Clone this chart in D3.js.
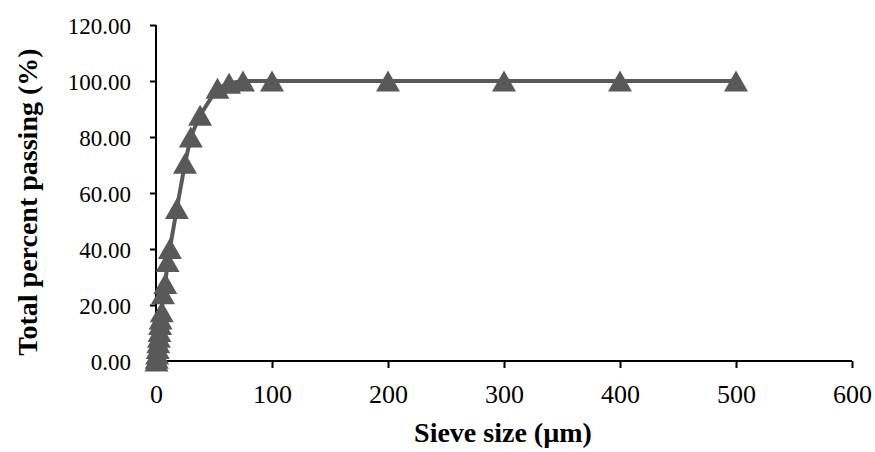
<!DOCTYPE html>
<html><head><meta charset="utf-8">
<script src="https://cdn.jsdelivr.net/npm/d3@7"></script>
<style>body{margin:0;background:#fff}svg{display:block}</style>
</head><body>
<script>
const sieveSizes = [0.4, 0.7, 1, 1.5, 2, 2.5, 3, 3.5, 4, 5, 6, 8, 10, 12, 18, 25, 30, 38, 53, 63, 75, 100, 200, 300, 400, 500];
const percentPassing = [0, 1, 2.5, 4.5, 6.5, 8.5, 10.5, 13, 15, 17.6, 24, 27.7, 35.5, 40.2, 54.5, 70.6, 80, 87.8, 97.4, 99.2, 100, 100, 100, 100, 100, 100];
const xTicks = [0, 100, 200, 300, 400, 500, 600];
const yTicks = [0, 20, 40, 60, 80, 100, 120];
const xTitle = "Sieve size (µm)";
const yTitle = "Total percent passing (%)";

const W = 875, H = 452;
const svg = d3.select("body").append("svg").attr("width", W).attr("height", H);
const x = d3.scaleLinear().domain([0, 600]).range([156, 852]);
const y = d3.scaleLinear().domain([0, 120]).range([361, 25]);
const font = "'Liberation Serif','Times New Roman',serif";

const xa = svg.append("g").attr("transform", `translate(0,${y(0)})`)
  .call(d3.axisBottom(x).tickValues(xTicks).tickSize(7).tickPadding(6).tickFormat(d3.format("d")));
const ya = svg.append("g").attr("transform", `translate(${x(0)},0)`)
  .call(d3.axisLeft(y).tickValues(yTicks).tickSize(6).tickPadding(19).tickFormat(d3.format(".2f")));
[xa, ya].forEach(a => {
  a.attr("font-family", font);
  a.select(".domain").attr("stroke", "#000").attr("stroke-width", 2);
  a.selectAll(".tick line").attr("stroke", "#000").attr("stroke-width", 2);
  a.selectAll("text").attr("font-family", font).attr("fill", "#000");
});
ya.selectAll("text").attr("font-size", 23).attr("dy", "0.36em");
xa.selectAll("text").attr("font-size", 26).attr("y", 0).attr("dy", 0)
  .attr("transform", "translate(0,42)");
xa.selectAll(".domain").attr("d", `M${x(0)},0H${x(600)}`);
ya.selectAll(".domain").attr("d", `M0,${y(0)}V${y(120)}`);

const data = sieveSizes.map((s, i) => [s, percentPassing[i]]);
svg.append("path").datum(data)
  .attr("fill", "none").attr("stroke", "#595959").attr("stroke-width", 4)
  .attr("stroke-linejoin", "round")
  .attr("d", d3.line().x(d => x(d[0])).y(d => y(d[1])));

const tw = 24, th = 21;
svg.append("g").selectAll("path").data(data).join("path")
  .attr("fill", "#595959")
  .attr("d", d => {
    const cx = x(d[0]), cy = y(d[1]);
    return `M${cx},${cy - th/2}L${cx + tw/2},${cy + th/2}L${cx - tw/2},${cy + th/2}Z`;
  });

svg.append("text").attr("x", 503).attr("y", 442).attr("text-anchor", "middle")
  .attr("font-family", font).attr("font-size", 28).attr("font-weight", "bold").text(xTitle);
svg.append("text").attr("transform", "translate(37,202) rotate(-90)").attr("text-anchor", "middle")
  .attr("font-family", font).attr("font-size", 28).attr("font-weight", "bold").text(yTitle);
</script>
</body></html>
